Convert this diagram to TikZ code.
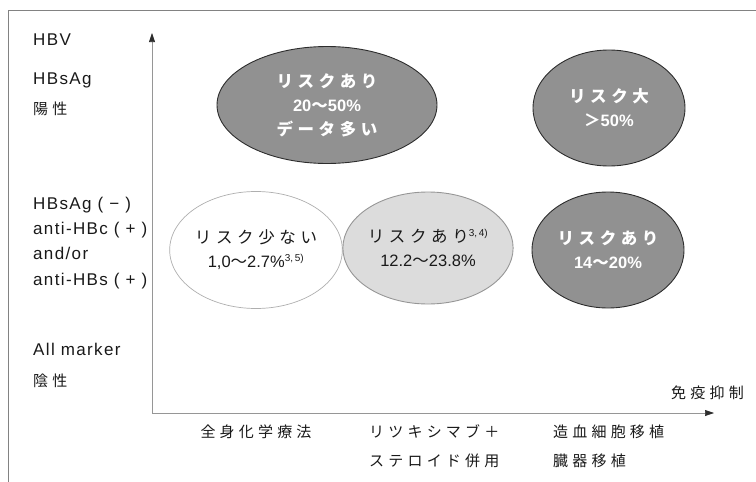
\documentclass[tikz,border=0pt]{standalone}
\usepackage{fontspec}
\setmainfont{Liberation Sans}
\newfontfamily\jp[LetterSpace=28]{Noto Sans CJK JP}
\newfontfamily\jpw{Noto Sans CJK JP}
\newfontfamily\lat[LetterSpace=8]{Liberation Sans}
\usetikzlibrary{shapes.geometric,arrows.meta}
\definecolor{darkfill}{RGB}{145,145,145}
\definecolor{darkline}{RGB}{45,45,45}
\definecolor{lightfill}{RGB}{220,220,220}
\definecolor{lightline}{RGB}{150,150,150}
\definecolor{paleline}{RGB}{175,175,175}
\definecolor{axisgray}{RGB}{150,150,150}
\definecolor{framegray}{RGB}{130,130,130}
\definecolor{txt}{RGB}{25,25,25}
\newcommand{\sps}[1]{\textsuperscript{\fontsize{10}{10}\selectfont #1}}
\tikzset{
  ylab/.style={anchor=base west,inner sep=0pt,text=txt,font=\lat\fontsize{17}{17}\selectfont},
  yjp/.style={anchor=base west,inner sep=0pt,text=txt,font=\jp\fontsize{15}{15}\selectfont},
  xjp/.style={anchor=base west,inner sep=0pt,text=txt,font=\jp\fontsize{15}{15}\selectfont},
  riskbase/.style={ellipse,inner sep=0pt,align=center,line width=0.9pt,font=\fontsize{16.5}{24}\selectfont},
  darkell/.style={riskbase,draw=darkline,fill=darkfill,text=white,font=\fontsize{16.5}{24}\selectfont\bfseries},
  lightell/.style={riskbase,draw=lightline,fill=lightfill,text=txt},
  paleell/.style={riskbase,draw=paleline,fill=white,text=txt,line width=0.7pt},
  axisline/.style={draw=axisgray,line width=0.6pt,-{Triangle[length=9pt,width=6pt,color=darkline]}},
}
\begin{document}
\begin{tikzpicture}[x=1pt,y=-1pt]
\useasboundingbox (0,0) rectangle (756,482);
% frame
\coordinate (fr1) at (8,482);
\coordinate (fr2) at (8,10);
\coordinate (fr3) at (756,10);
\draw[framegray,line width=0.8pt] (fr1) -- (fr2) -- (fr3);
% axes
\coordinate (O) at (152,413);
\coordinate (ytip) at (152,33);
\coordinate (xtip) at (714,413);
\draw[axisline] (O) -- (ytip);
\draw[axisline] (O) -- (xtip);
% y labels
\node[ylab] (hbv) at (33,45) {HBV};
\node[ylab] (hbsag) at (33,84) {HBsAg};
\node[yjp] (yosei) at (33,114) {陽性};
\node[ylab] (l1) at (33,209) {HBsAg ( − )};
\node[ylab] (l2) at (33,234) {anti-HBc ( + )};
\node[ylab] (l3) at (33,259) {and/or};
\node[ylab] (l4) at (33,285) {anti-HBs ( + )};
\node[ylab] (allm) at (33,355) {All marker};
\node[yjp] (insei) at (33,386) {陰性};
% x labels
\node[xjp,anchor=base] (c1) at (256,437) {全身化学療法};
\node[xjp] (c2a) at (369,437) {リツキシマブ＋};
\node[xjp] (c2b) at (369,466) {ステロイド併用};
\node[xjp] (c3a) at (553,437) {造血細胞移植};
\node[xjp] (c3b) at (553,466) {臓器移植};
\node[xjp,anchor=base east] (men) at (744,398) {免疫抑制};
% risk ellipses
\node[darkell,minimum width=220pt,minimum height=117pt] (e1) at (327,105)
  {{\jp リスクあり}\\20{\jpw 〜}50\%\\{\jp データ多い}};
\node[darkell,minimum width=152pt,minimum height=116pt] (e2) at (609,108)
  {{\jp リスク大}\\{\jpw ＞}50\%};
\node[paleell,minimum width=158pt,minimum height=117pt] (e3) at (256,250)
  {{\jp リスク少ない}\\1,0{\jpw 〜}2.7\%\sps{3,\,5)}};
\node[lightell,minimum width=160pt,minimum height=112pt] (e4) at (428,248)
  {{\jp リスクあり}\sps{3,\,4)}\\12.2{\jpw 〜}23.8\%};
\node[darkell,minimum width=152pt,minimum height=116pt] (e5) at (608,250)
  {{\jp リスクあり}\\14{\jpw 〜}20\%};
\end{tikzpicture}
\end{document}
